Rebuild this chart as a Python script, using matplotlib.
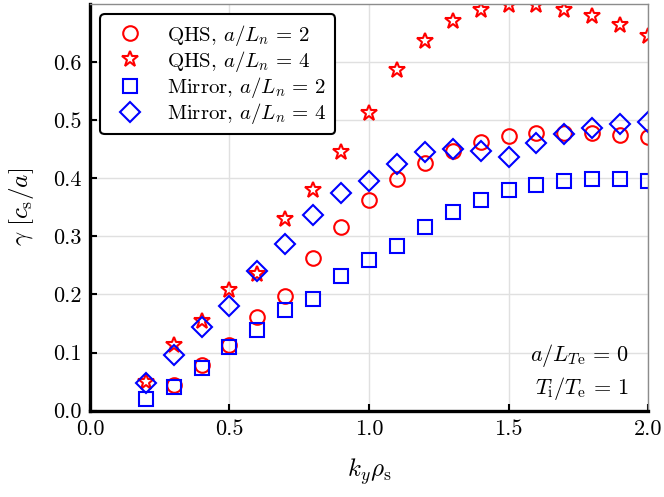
import numpy as np
import matplotlib
matplotlib.use("Agg")
import matplotlib.pyplot as plt

plt.rcParams['font.family'] = 'serif'
plt.rcParams['font.serif'] = ['cmr10']
plt.rcParams['mathtext.fontset'] = 'cm'
plt.rcParams['axes.formatter.use_mathtext'] = True

# growth rates vs k_y rho_s
ky = [0.2, 0.3, 0.4, 0.5, 0.6, 0.7, 0.8, 0.9, 1.0, 1.1,
      1.2, 1.3, 1.4, 1.5, 1.6, 1.7, 1.8, 1.9, 2.0]

ky_qhs2 = ky[1:]
qhs_ln2 = [0.044, 0.078, 0.113, 0.162, 0.198, 0.262, 0.316, 0.362, 0.398,
           0.427, 0.447, 0.462, 0.472, 0.478, 0.478, 0.478, 0.475, 0.471]
qhs_ln4 = [0.050, 0.113, 0.155, 0.208, 0.236, 0.330, 0.379, 0.445, 0.513, 0.586,
           0.637, 0.671, 0.690, 0.699, 0.699, 0.690, 0.679, 0.663, 0.645]
mir_ln2 = [0.020, 0.041, 0.074, 0.109, 0.139, 0.174, 0.192, 0.231, 0.260, 0.284,
           0.316, 0.342, 0.362, 0.379, 0.389, 0.395, 0.398, 0.398, 0.395]
mir_ln4 = [0.047, 0.096, 0.144, 0.180, 0.241, 0.287, 0.336, 0.375, 0.395, 0.425,
           0.445, 0.451, 0.447, 0.437, 0.460, 0.477, 0.487, 0.493, 0.496]

fig = plt.figure(figsize=(6.64, 4.97), dpi=100)
ax = fig.add_axes([0.1355, 0.1737, 0.8405, 0.8183])

ax.plot(ky_qhs2, qhs_ln2, 'o', ms=10.5, mfc='none', mec='red', mew=1.5, ls='none',
        label=r'QHS, $a/L_n\,=\,2$')
ax.plot(ky, qhs_ln4, '*', ms=12, mfc='none', mec='red', mew=1.5, ls='none',
        label=r'QHS, $a/L_n\,=\,4$')
ax.plot(ky, mir_ln2, 's', ms=10, mfc='none', mec='blue', mew=1.5, ls='none',
        label=r'Mirror, $a/L_n\,=\,2$')
ax.plot(ky, mir_ln4, 'D', ms=10, mfc='none', mec='blue', mew=1.5, ls='none',
        label=r'Mirror, $a/L_n\,=\,4$')

ax.set_xlim(0, 2)
ax.set_ylim(0, 0.7)
ax.set_xticks([0.0, 0.5, 1.0, 1.5, 2.0])
ax.set_yticks([0.0, 0.1, 0.2, 0.3, 0.4, 0.5, 0.6])
ax.set_xticklabels(['0.0', '0.5', '1.0', '1.5', '2.0'])
ax.set_yticklabels(['0.0', '0.1', '0.2', '0.3', '0.4', '0.5', '0.6'])
ax.tick_params(direction='in', length=5, width=1.5, labelsize=16, pad=6)
ax.grid(True, color='#e0e0e0', lw=1)
ax.set_axisbelow(True)

for side in ['left', 'bottom']:
    ax.spines[side].set_linewidth(2.4)
    ax.spines[side].set_color('black')
for side in ['top', 'right']:
    ax.spines[side].set_linewidth(1)
    ax.spines[side].set_color('0.55')

ax.set_xlabel(r'$k_y\rho_\mathrm{s}$', fontsize=18, labelpad=13)
ax.set_ylabel(r'$\gamma\ [c_\mathrm{s}/a]$', fontsize=18, labelpad=12)

ax.text(0.966, 0.123, r'$a/L_{T\mathrm{e}}\,=\,0$', transform=ax.transAxes,
        ha='right', va='baseline', fontsize=16)
ax.text(0.966, 0.041, r'$T_\mathrm{i}/T_\mathrm{e}\,=\,1$', transform=ax.transAxes,
        ha='right', va='baseline', fontsize=16)

leg = ax.legend(loc='upper left', fontsize=15, numpoints=1, fancybox=True,
                framealpha=1, edgecolor='black', labelspacing=0.05)
leg.get_frame().set_linewidth(1.5)

fig.savefig('out.png', dpi=100)
